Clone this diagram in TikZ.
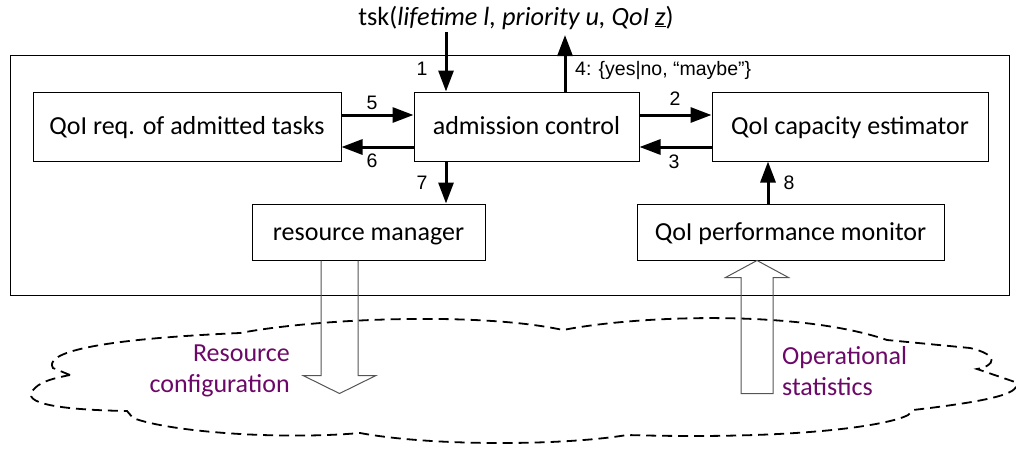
\documentclass[tikz,border=0pt]{standalone}
\usepackage{fontspec}
\setmainfont{Carlito}
\newfontfamily\labelfont{Liberation Sans}
\usetikzlibrary{arrows.meta,calc}
\definecolor{flowpurple}{RGB}{108,8,104}
\definecolor{hollowgray}{RGB}{85,85,85}

\begin{document}
\begin{tikzpicture}[x=1pt,y=-1pt,
  block/.style={draw,line width=1pt,minimum height=69pt,inner sep=0pt,
    text height=16pt,text depth=0pt,font=\fontsize{26}{31}\selectfont},
  lowblock/.style={block,minimum height=56pt},
  flow/.style={line width=3pt,-{Triangle[length=21pt,width=15pt]}},
  num/.style={font=\labelfont\fontsize{19.5}{23}\selectfont,inner sep=0pt},
  note/.style={text=flowpurple,font=\fontsize{26}{31}\selectfont,inner sep=0pt},
  hollow/.style={draw=hollowgray,line width=1pt,line join=miter},
  cloudline/.style={line width=1.8pt,dash pattern=on 10pt off 6pt}
]
\useasboundingbox (0,0) rectangle (1016,453);

% dashed cloud (the environment)
\draw[cloudline]
  (70,375) -- (53,368) .. controls (45,355) and (80,340) .. (240,333)
  .. controls (320,318) and (480,312) .. (563,330)
  .. controls (640,315) and (800,310) .. (887,340)
  -- (970,348) .. controls (1000,355) and (995,366) .. (977,369)
  -- (1015,382) .. controls (1022,392) and (1000,400) .. (913,410)
  -- (908,415)
  .. controls (890,425) and (800,440) .. (627,435)
  .. controls (560,446) and (430,446) .. (360,433)
  .. controls (280,440) and (170,432) .. (133,418)
  -- (127,411) .. controls (70,410) and (15,405) .. (35,388)
  .. controls (42,381) and (55,378) .. cycle;

% system frame
\node[draw,line width=1pt,minimum width=999pt,minimum height=240pt,inner sep=0pt]
  (frame) at (509.5,175) {};

% components
\node[block,minimum width=308pt] (qreq) at (187,126.5) {QoI req. of admitted tasks};
\node[block,minimum width=225pt] (adm)  at (526.5,126.5) {admission control};
\node[block,minimum width=276pt] (cap)  at (850,126.5) {QoI capacity estimator};
\node[lowblock,minimum width=233pt] (rm)  at (368.5,232) {resource manager};
\node[lowblock,minimum width=307pt] (mon) at (790.5,232) {QoI performance monitor};

% incoming task and admission reply
\node[anchor=base,inner sep=0pt,font=\fontsize{26.3}{31}\selectfont] (task) at (516,25)
  {tsk(\textit{lifetime l, priority u, QoI \underline{z}})};
\coordinate (in1) at (446,32);
\coordinate (out4) at (565,35);
\draw[flow] (in1) -- (in1 |- adm.north);
\draw[flow] (out4 |- adm.north) -- (out4);

% message flows between components
\draw[flow] ([yshift=11.5pt]qreq.east) -- ([yshift=11.5pt]adm.west);
\draw[flow] ([yshift=-20.5pt]adm.west) -- ([yshift=-20.5pt]qreq.east);
\draw[flow] ([yshift=11.5pt]adm.east) -- ([yshift=11.5pt]cap.west);
\draw[flow] ([yshift=-20.5pt]cap.west) -- ([yshift=-20.5pt]adm.east);
\draw[flow] (in1 |- adm.south) -- (in1 |- rm.north);
\coordinate (x8) at (768,0);
\draw[flow] (x8 |- mon.north) -- (x8 |- cap.south);

% step numbers
\node[num] (n1) at (422,69) {1};
\node[num,anchor=west] (n4) at (575,70) {4: \{yes|no, “maybe”\}};
\node[num] (n5) at (372,103) {5};
\node[num] (n6) at (372,161) {6};
\node[num] (n2) at (675,99) {2};
\node[num] (n3) at (674,162) {3};
\node[num] (n7) at (422,183) {7};
\node[num] (n8) at (789,183) {8};

% hollow arrows to and from the environment
\path (rm.south) ++(-29,0) coordinate (rs);
\draw[hollow] ($(rs)+(-18.5,0)$) -- ++(0,115) -- ++(-18,0) -- ($(rs)+(0,133)$)
  -- ($(rs)+(36.5,115)$) -- ++(-18,0) -- ($(rs)+(18.5,0)$);
\path (mon.south) ++(-33.5,0) coordinate (ms);
\draw[hollow] (ms) -- ++(31.5,17) -- ++(-15.5,0) -- ($(ms)+(16,133)$)
  -- ($(ms)+(-16,133)$) -- ($(ms)+(-16,17)$) -- ($(ms)+(-31.5,17)$) -- cycle;

\node[note,align=right,anchor=east] (rconf) at (290,371) {Resource\\configuration};
\node[note,align=left,anchor=west] (ostat) at (782,371) {Operational\\statistics};
\end{tikzpicture}
\end{document}
